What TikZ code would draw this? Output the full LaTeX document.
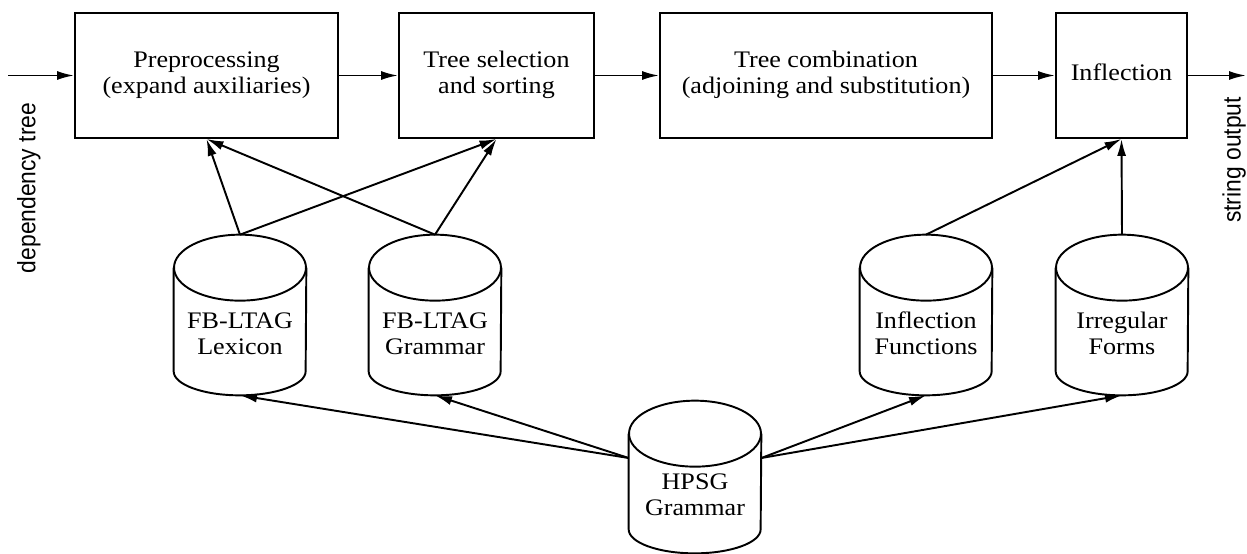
\documentclass[tikz,border=0pt]{standalone}
\usepackage{fontspec}
\setmainfont{Liberation Serif}
\setsansfont{Liberation Sans}
\usepackage{graphicx}
\usetikzlibrary{arrows.meta}
\newcommand{\wtx}[1]{\scalebox{1.1}[1]{\begin{tabular}{@{}c@{}}#1\end{tabular}}}
\newcommand{\drawcyl}[1]{%
  \draw[outl] ([yshift=-0.66cm]#1.north west) -- ([yshift=0.48cm]#1.south west)
    arc[start angle=180,end angle=360,x radius=1.32cm,y radius=0.48cm]
    -- ([yshift=-0.66cm]#1.north east);
  \draw[outl] ([yshift=-0.66cm]#1.north) ellipse[x radius=1.32cm, y radius=0.66cm];}
\begin{document}
\begin{tikzpicture}[x=0.02cm,y=-0.02cm,
  outl/.style={line width=1.1pt},
  conn/.style={line width=1.1pt,-{Latex[length=0.34cm,width=0.18cm]}},
  procbox/.style={draw,line width=1.1pt,minimum height=2.5cm,inner sep=0pt,
    font=\fontsize{13.5}{14.8}\selectfont},
  cylbody/.style={minimum width=2.64cm,minimum height=3.2cm,inner sep=0pt},
  ctext/.style={inner sep=0pt,font=\fontsize{13.5}{14.8}\selectfont},
  sidelabel/.style={rotate=90,inner sep=0pt,font=\sffamily\fontsize{13}{15}\selectfont}]
\useasboundingbox (0,0) rectangle (1247,554);
\fill[white] (0,0) rectangle (1247,554);
% process boxes
\node[procbox,minimum width=5.26cm] (pre) at (206.5,75.5) {\wtx{Preprocessing\\(expand auxiliaries)}};
\node[procbox,minimum width=3.9cm] (ts) at (496.5,75.5) {\wtx{Tree selection\\and sorting}};
\node[procbox,minimum width=6.64cm] (tc) at (826,75.5) {\wtx{Tree combination\\(adjoining and substitution)}};
\node[procbox,minimum width=2.62cm] (infl) at (1121.5,75.5) {\wtx{Inflection}};
\coordinate (in) at (8,75.5);
\coordinate (out) at (1246,75.5);
\node[sidelabel] (dep) at (29,188) {\scalebox{1}[1.1]{dependency tree}};
\node[sidelabel] (so) at (1234,160) {\scalebox{1}[1.1]{string output}};
% cylinders
\node[cylbody] (lex) at (240,315) {}; \drawcyl{lex}
\node[ctext] (lexT) at ([yshift=-0.43cm]lex.center) {\wtx{FB-LTAG\\Lexicon}};
\node[cylbody] (gram) at (435,315) {}; \drawcyl{gram}
\node[ctext] (gramT) at ([yshift=-0.43cm]gram.center) {\wtx{FB-LTAG\\Grammar}};
\node[cylbody] (ifun) at (926,315) {}; \drawcyl{ifun}
\node[ctext] (ifunT) at ([yshift=-0.43cm]ifun.center) {\wtx{Inflection\\Functions}};
\node[cylbody] (irr) at (1122,315) {}; \drawcyl{irr}
\node[ctext] (irrT) at ([yshift=-0.43cm]irr.center) {\wtx{Irregular\\Forms}};
\node[cylbody,minimum height=3.04cm] (hpsg) at (695,477) {}; \drawcyl{hpsg}
\node[ctext] (hpsgT) at ([yshift=-0.4cm]hpsg.center) {\wtx{HPSG\\Grammar}};
% connectors
\draw[conn] (in) -- (pre.west);
\draw[conn] (pre.east) -- (ts.west);
\draw[conn] (ts.east) -- (tc.west);
\draw[conn] (tc.east) -- (infl.west);
\draw[conn] (infl.east) -- (out);
\draw[conn] (lex.north) -- (pre.south);
\draw[conn] (lex.north) -- (ts.south);
\draw[conn] (gram.north) -- (pre.south);
\draw[conn] (gram.north) -- (ts.south);
\draw[conn] (ifun.north) -- (infl.south);
\draw[conn] (irr.north) -- (infl.south);
\draw[conn] ([yshift=0.38cm]hpsg.west) -- (lex.south);
\draw[conn] ([yshift=0.38cm]hpsg.west) -- (gram.south);
\draw[conn] ([yshift=0.38cm]hpsg.east) -- (ifun.south);
\draw[conn] ([yshift=0.38cm]hpsg.east) -- (irr.south);
\end{tikzpicture}
\end{document}
